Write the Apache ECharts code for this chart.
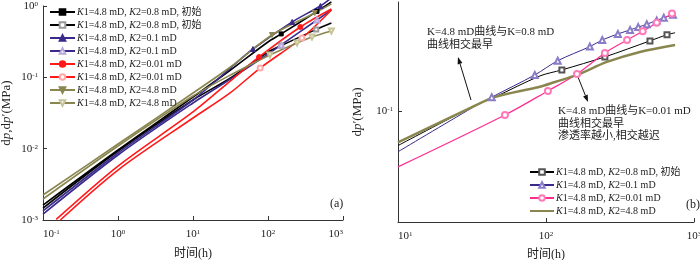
<!DOCTYPE html>
<html><head><meta charset="utf-8">
<script src="https://cdn.jsdelivr.net/npm/echarts@6/dist/echarts.min.js"></script>
<style>html,body{margin:0;padding:0;background:#fff}#c{width:700px;height:260px}</style>
</head><body><div id="c"></div>
<script>
// ---------- data (t in hours, value in MPa) ----------
var labelsA = [
  '{i|K}1=4.8 mD, {i|K}2=0.8 mD, 初始',
  '{i|K}1=4.8 mD, {i|K}2=0.8 mD, 初始',
  '{i|K}1=4.8 mD, {i|K}2=0.1 mD',
  '{i|K}1=4.8 mD, {i|K}2=0.1 mD',
  '{i|K}1=4.8 mD, {i|K}2=0.01 mD',
  '{i|K}1=4.8 mD, {i|K}2=0.01 mD',
  '{i|K}1=4.8 mD, {i|K}2=4.8 mD',
  '{i|K}1=4.8 mD, {i|K}2=4.8 mD'
];
var labelsB = [
  '{i|K}1=4.8 mD, {i|K}2=0.8 mD, 初始',
  '{i|K}1=4.8 mD, {i|K}2=0.1 mD',
  '{i|K}1=4.8 mD, {i|K}2=0.01 mD',
  '{i|K}1=4.8 mD, {i|K}2=4.8 mD'
];
// Panel (a)
var a_dp08  = [[0.1,0.00162],[1,0.00958],[10,0.053],[31.6,0.1267],[100,0.313],[150,0.406],[450,0.84],[700,1.14]];
var a_dpd08 = [[0.1,0.00147],[1,0.00927],[10,0.0481],[31.6,0.0979],[100,0.2265],[150,0.278],[440,0.47],[700,0.578]];
var a_dp01  = [[0.1,0.00134],[1,0.00869],[10,0.0481],[31.6,0.135],[63,0.2495],[210,0.597],[500,1.0],[700,1.3]];
var a_dpd01 = [[0.1,0.00121],[1,0.00815],[10,0.0437],[31.6,0.0947],[100,0.2124],[150,0.285],[450,0.637],[700,0.879]];
var a_dp001 = [[0.15,0.00102],[1,0.00571],[10,0.0327],[31.6,0.0895],[76,0.1928],[270,0.508],[700,0.908]];
var a_dpd001= [[0.17,0.001],[1,0.00502],[10,0.0269],[31.6,0.061],[78.6,0.135],[284,0.356],[700,0.879]];
var a_dp48  = [[0.1,0.00224],[1,0.01162],[10,0.0603],[31.6,0.1396],[113,0.392],[420,0.798],[700,1.07]];
var a_dpd48 = [[0.1,0.00197],[1,0.0109],[10,0.0547],[31.6,0.1078],[106,0.2056],[244,0.303],[386,0.3675],[700,0.446]];
// Panel (b)
var b_08  = [[10,0.069],[31.6,0.105],[45,0.117],[91,0.1474],[128,0.1574],[250,0.1814],[504,0.216],[657,0.231],[745,0.236]];
var b_01  = [[10,0.0645],[31.6,0.104],[43,0.117],[84,0.149],[120,0.174],[198,0.203],[240,0.218],[306,0.233],[370,0.2434],[420,0.251],[480,0.259],[560,0.27],[625,0.278],[721,0.287]];
var b_001 = [[10,0.0547],[52.8,0.0963],[103,0.1252],[162,0.1507],[250,0.1894],[353,0.218],[450,0.24],[560,0.263],[710,0.291]];
var b_48  = [[10,0.0715],[31.6,0.105],[45,0.117],[91,0.131],[115,0.138],[162,0.149],[258,0.1717],[431,0.1915],[745,0.2067]];

// ---------- styling ----------
var SERIF = "'Liberation Serif','Times New Roman','Noto Sans CJK SC',serif";
var supRich = {s:{fontSize:7,verticalAlign:'top',fontFamily:SERIF,color:'#222'}};
function powLabel(v){
  var l = Math.log10(v), e = Math.round(l);
  if (Math.abs(l-e) > 1e-6) return '';
  return '10{s|' + e + '}';
}
function mk(arr, marks){
  return arr.map(function(p,i){
    return marks.indexOf(i) >= 0 ? {value:p} : {value:p, symbol:'none'};
  });
}
function lineSeries(name, arr, marks, o){
  return {
    name:name, type:'line', xAxisIndex:o.g, yAxisIndex:o.g,
    data: mk(arr, marks), smooth:0.3, clip:false,
    symbol:o.sym, symbolRotate:o.rot||0, symbolSize:o.size||5,
    color:o.line,
    lineStyle:{color:o.line, width:o.w||1.6},
    itemStyle:{color:o.mc||o.line, borderColor:o.mc||o.line, borderWidth:1},
    emphasis:{disabled:true}, z:o.z||2
  };
}
function ax(extra){
  var base = {
    type:'log', logBase:10,
    axisLine:{show:true, onZero:false, lineStyle:{color:'#333',width:1}},
    axisTick:{show:true, inside:true, length:4, lineStyle:{color:'#333'}},
    splitLine:{show:false}, minorTick:{show:false}
  };
  var lab = Object.assign({formatter:powLabel, fontSize:11, fontFamily:SERIF, color:'#222', rich:supRich}, extra.axisLabel||{});
  return Object.assign(base, extra, {axisLabel:lab});
}
var xNameStyle = {fontSize:12, fontFamily:SERIF, color:'#222'};
var yNameStyle = {fontSize:13, fontFamily:SERIF, color:'#222', rich:{i:{fontStyle:'italic',fontSize:13,fontFamily:SERIF,color:'#222'}}};
var legendText = {fontSize:10, fontFamily:SERIF, color:'#222', lineHeight:12, padding:[0,0,0,-3],
       rich:{i:{fontStyle:'italic',fontSize:10,fontFamily:SERIF,color:'#222'}}};

var chart = echarts.init(document.getElementById('c'), null, {renderer:'canvas'});
var option = {
  animation:false,
  backgroundColor:'#fff',
  grid:[
    {left:43, top:6, width:300, height:214, containLabel:false, outerBoundsMode:'none'},
    {left:398, top:2, width:296, height:220, containLabel:false, outerBoundsMode:'none'}
  ],
  xAxis:[
    ax({gridIndex:0, min:0.1, max:1000, name:'时间(h)', nameLocation:'middle', nameGap:28, nameTextStyle:xNameStyle,
        axisLabel:{margin:9, alignMinLabel:'left', alignMaxLabel:'right'}}),
    ax({gridIndex:1, min:10, max:1000, name:'时间(h)', nameLocation:'middle', nameGap:27, nameTextStyle:xNameStyle,
        axisLabel:{margin:9, alignMinLabel:'left'}})
  ],
  yAxis:[
    ax({gridIndex:0, min:0.001, max:1, name:'d{i|p},d{i|p}′(MPa)', nameLocation:'middle', nameGap:30, nameTextStyle:yNameStyle,
        axisLabel:{margin:5}}),
    ax({gridIndex:1, min:0.03, max:0.33, name:'d{i|p}′(MPa)', nameLocation:'middle', nameGap:34, nameTextStyle:yNameStyle,
        axisLabel:{margin:5, showMinLabel:false, showMaxLabel:false}})
  ],
  legend:[
    {orient:'vertical', left:49, top:6, itemWidth:25, itemHeight:7, itemGap:1, padding:0,
     data:['A0','A1','A2','A3','A4','A5','A6','A7'],
     formatter:function(n){return labelsA[+n.slice(1)];}, textStyle:legendText},
    {orient:'vertical', left:529, top:166, itemWidth:24, itemHeight:7, itemGap:1, padding:0,
     data:['B0','B1','B2','B3'],
     formatter:function(n){return labelsB[+n.slice(1)];}, textStyle:legendText}
  ],
  series:[
    lineSeries('A0', a_dp08,  [5,6],   {g:0, line:'#000000', sym:'rect', size:4}),
    lineSeries('A1', a_dpd08, [5,6],   {g:0, line:'#000000', mc:'#9a9a9a', sym:'emptyRect', size:4}),
    lineSeries('A2', a_dp01,  [4,5,6], {g:0, line:'#3a2a8c', sym:'triangle', size:5}),
    lineSeries('A3', a_dpd01, [5,6],   {g:0, line:'#3a2a8c', mc:'#b8a8dc', sym:'emptyTriangle', size:5}),
    lineSeries('A4', a_dp001, [4,5],   {g:0, line:'#ff1a1a', sym:'circle', size:5}),
    lineSeries('A5', a_dpd001,[4,5],   {g:0, line:'#ff1a1a', mc:'#ffa8a8', sym:'emptyCircle', size:5}),
    lineSeries('A6', a_dp48,  [4,5],   {g:0, line:'#8a8650', sym:'triangle', rot:180, size:5}),
    lineSeries('A7', a_dpd48, [4,5,6,7],{g:0, line:'#8a8650', mc:'#c8c49a', sym:'emptyTriangle', rot:180, size:5}),
    lineSeries('B0', b_08,  [4,5,6,7], {g:1, line:'#000000', mc:'#555555', sym:'emptyRect', size:5, w:1}),
    lineSeries('B1', b_01,  [2,3,4,5,6,7,8,9,10,11,12,13], {g:1, line:'#3a2a8c', mc:'#8a7cc8', sym:'emptyTriangle', size:6, w:1}),
    lineSeries('B2', b_001, [1,2,3,4,5,6,7,8], {g:1, line:'#ff2d8f', mc:'#ff7ab8', sym:'emptyCircle', size:6, w:1.2}),
    lineSeries('B3', b_48,  [], {g:1, line:'#8a8650', mc:'rgba(0,0,0,0)', sym:'circle', size:1, w:2.5})
  ],
  graphic:[
    {type:'text', left:330, top:198, style:{text:'(a)', fontSize:12, fontFamily:SERIF, fill:'#222'}},
    {type:'text', left:686, top:199, style:{text:'(b)', fontSize:12, fontFamily:SERIF, fill:'#222'}},
    {type:'text', x:427, y:26, style:{text:'K=4.8 mD曲线与K=0.8 mD\n曲线相交最早', fontSize:11, lineHeight:12.5, fontFamily:SERIF, fill:'#222'}},
    {type:'text', x:558, y:105, style:{text:'K=4.8 mD曲线与K=0.01 mD\n曲线相交最早\n渗透率越小,相交越迟', fontSize:11, lineHeight:12.5, fontFamily:SERIF, fill:'#222'}},
    {type:'line', shape:{x1:471, y1:100, x2:460, y2:63.7}, style:{stroke:'#111', lineWidth:1}},
    {type:'polygon', shape:{points:[[458,57],[462.4,63.0],[457.6,64.4]]}, style:{fill:'#111'}},
    {type:'line', shape:{x1:578, y1:77, x2:585.4, y2:95.5}, style:{stroke:'#111', lineWidth:1}},
    {type:'polygon', shape:{points:[[588,102],[587.7,94.6],[583.1,96.4]]}, style:{fill:'#111'}}
  ]
};
chart.setOption(option);
</script>
</body></html>
